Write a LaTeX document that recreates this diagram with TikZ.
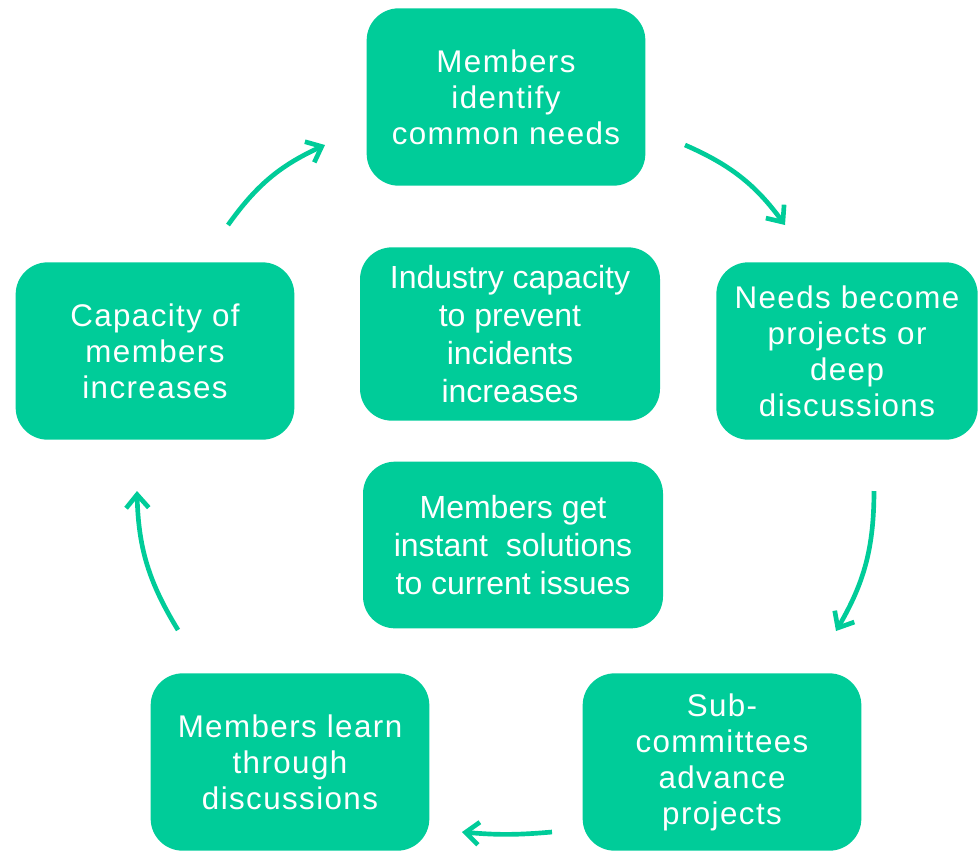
\documentclass[tikz,border=0pt]{standalone}
\usepackage{fontspec}
\setmainfont{Liberation Sans}
\usetikzlibrary{positioning}
\usetikzlibrary{arrows.meta}
\usepackage{xcolor}
\definecolor{mint}{RGB}{0,204,153}

\begin{document}
\begin{tikzpicture}[x=0.75pt, y=-0.75pt,
    block/.style={fill=mint, text=white, align=center, rounded corners=24pt,
        minimum width=209pt, minimum height=133pt, inner sep=0pt,
        font=\fontsize{23.5}{27}\selectfont\addfontfeatures{LetterSpace=4.5}},
    inner/.style={block, minimum width=225pt, font=\fontsize{24}{28.5}\selectfont},
    >={Straight Barb[length=10pt,width=17pt]}]
    \useasboundingbox (0,0) rectangle (980,851);

    \draw node[block] (mem) at (506,97) {Members\\identify\\common needs};
    \draw node[block, minimum width=196pt] (need) at (847,351) {Needs become\\projects or\\deep\\discussions};
    \draw node[block] (sub) at (722,762) {Sub-\\committees\\advance\\projects};
    \draw node[block] (lrn) at (290,762) {Members learn\\through\\discussions};
    \draw node[block] (cap) at (155,351) {Capacity of\\members\\increases};

    \draw node[inner, minimum height=130pt] (ind) at (510,334) {Industry capacity\\to prevent\\incidents\\increases};
    \draw node[inner, minimum height=125pt] (sol) at (513,545) {Members get\\instant\ \ solutions\\to current issues};

    % arrows round the cycle
    \coordinate (a1s) at (685,145); \coordinate (a1e) at (785,225);
    \coordinate (a2s) at (874,491); \coordinate (a2e) at (836,631);
    \coordinate (a3s) at (552,832); \coordinate (a3e) at (462,832);
    \coordinate (a4s) at (178,630); \coordinate (a4e) at (137,491);
    \coordinate (a5s) at (228,225); \coordinate (a5e) at (325,145);

    \draw[->, mint, line width=3.5pt](a1s) to[bend left=15] (a1e);
    \draw[->, mint, line width=3.5pt](a2s) to[bend left=15] (a2e);
    \draw[->, mint, line width=3.5pt](a3s) to[bend left=5] (a3e);
    \draw[->, mint, line width=3.5pt](a4s) to[bend left=15] (a4e);
    \draw[->, mint, line width=3.5pt](a5s) to[bend left=15] (a5e);
\end{tikzpicture}
\end{document}
